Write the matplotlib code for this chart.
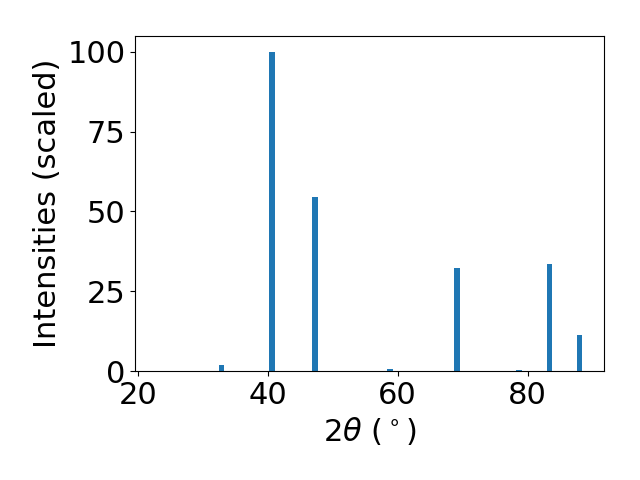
import matplotlib
matplotlib.use("Agg")
import matplotlib.pyplot as plt

# peak positions (2theta, degrees) and scaled intensities
two_theta = [32.94, 40.65, 47.27, 58.83, 69.15, 78.7, 83.33, 87.95]
intensity = [2.0, 100.0, 54.6, 0.7, 32.3, 0.3, 33.5, 11.3]

fig, ax = plt.subplots(figsize=(6.4, 4.8), dpi=100)
ax.bar(two_theta, intensity, width=0.8)
ax.set_xlim(19.58, 91.8)
ax.set_xlabel(r"$2\theta$ ($^\circ$)", fontsize=22)
ax.set_ylabel("Intensities (scaled)", fontsize=22)
ax.set_yticks([0, 25, 50, 75, 100])
ax.tick_params(labelsize=22)
fig.subplots_adjust(left=0.211, right=0.944, top=0.925, bottom=0.227)
fig.savefig("out.png")
